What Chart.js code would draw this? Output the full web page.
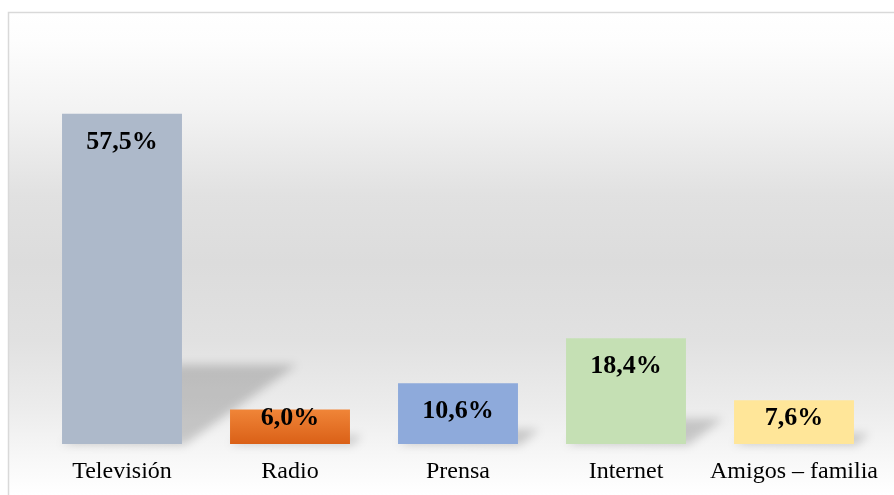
<!DOCTYPE html>
<html>
<head>
<meta charset="utf-8">
<script src="https://cdn.jsdelivr.net/npm/chart.js@4/dist/chart.umd.min.js"></script>
<style>
  html, body { margin: 0; padding: 0; background: #ffffff; }
  #wrap { width: 894px; height: 495px; position: relative; }
</style>
</head>
<body>
<div id="wrap"><canvas id="c" width="894" height="495"></canvas></div>
<script>
const categories = ["Televisión", "Radio", "Prensa", "Internet", "Amigos – familia"];
const values = [57.5, 6.0, 10.6, 18.4, 7.6];
const valueLabels = ["57,5%", "6,0%", "10,6%", "18,4%", "7,6%"];
const barColors = ["#adb9ca", "#e97124", "#8eaadb", "#c5e0b4", "#ffe699"];

const backgroundPlugin = {
  id: 'bgFrame',
  beforeDraw(chart) {
    const ctx = chart.ctx;
    const w = chart.width, h = chart.height;
    ctx.save();
    const g = ctx.createLinearGradient(0, 12, 0, h);
    g.addColorStop(0.00, '#ffffff');
    g.addColorStop(0.06, '#fdfdfd');
    g.addColorStop(0.20, '#f3f3f3');
    g.addColorStop(0.38, '#e1e1e1');
    g.addColorStop(0.52, '#dcdcdc');
    g.addColorStop(0.68, '#e1e1e1');
    g.addColorStop(0.82, '#ececec');
    g.addColorStop(0.93, '#f8f8f8');
    g.addColorStop(1.00, '#ffffff');
    ctx.fillStyle = g;
    ctx.fillRect(8, 12, w - 8, h - 12);
    ctx.strokeStyle = '#d9d9d9';
    ctx.lineWidth = 1.5;
    ctx.beginPath();
    ctx.moveTo(8.5, h + 2);
    ctx.lineTo(8.5, 12.5);
    ctx.lineTo(w + 2, 12.5);
    ctx.stroke();
    ctx.restore();
  }
};

const shadowPlugin = {
  id: 'barShadows',
  beforeDatasetsDraw(chart) {
    const ctx = chart.ctx;
    const meta = chart.getDatasetMeta(0);
    ctx.save();
    ctx.filter = 'blur(5px)';
    ctx.fillStyle = 'rgba(0,0,0,0.18)';
    meta.data.forEach((el) => {
      const p = el.getProps(['x', 'y', 'base', 'width'], true);
      const left = p.x - p.width / 2, right = p.x + p.width / 2;
      const hgt = p.base - p.y;
      const sh = hgt * 0.24;
      const skew = sh * 1.45;
      ctx.beginPath();
      ctx.moveTo(left, p.base);
      ctx.lineTo(right + 2, p.base + 1);
      ctx.lineTo(right + skew, p.base - sh);
      ctx.lineTo(left + skew, p.base - sh);
      ctx.closePath();
      ctx.fill();
    });
    ctx.restore();
  }
};

const labelPlugin = {
  id: 'valueLabels',
  afterDatasetsDraw(chart) {
    const ctx = chart.ctx;
    const meta = chart.getDatasetMeta(0);
    ctx.save();
    ctx.font = 'bold 26px "Liberation Serif", "Times New Roman", serif';
    ctx.fillStyle = '#000000';
    ctx.textAlign = 'center';
    ctx.textBaseline = 'middle';
    meta.data.forEach((el, i) => {
      const p = el.getProps(['x', 'y', 'base'], true);
      const hgt = p.base - p.y;
      const ty = hgt > 60 ? p.y + 28 : p.base - 26;
      ctx.fillText(valueLabels[i], p.x, ty);
    });
    ctx.restore();
  }
};

new Chart(document.getElementById('c'), {
  type: 'bar',
  data: {
    labels: categories,
    datasets: [{
      data: values,
      backgroundColor: (c) => {
        const i = c.dataIndex;
        const chart = c.chart;
        if (i !== 1 || !chart.chartArea || !chart.scales.y) return barColors[i];
        const top = chart.scales.y.getPixelForValue(values[1]);
        const base = chart.scales.y.getPixelForValue(0);
        const g = chart.ctx.createLinearGradient(0, top, 0, base);
        g.addColorStop(0, '#f08538');
        g.addColorStop(1, '#da6017');
        return g;
      },
      borderWidth: 0,
      barPercentage: 0.714,
      categoryPercentage: 1.0
    }]
  },
  options: {
    responsive: false,
    animation: false,
    devicePixelRatio: 1,
    layout: { padding: { left: 38, right: 16, top: 42, bottom: 10 } },
    plugins: {
      legend: { display: false },
      tooltip: { enabled: false },
      title: { display: false }
    },
    scales: {
      x: {
        grid: { display: false, drawTicks: false },
        border: { display: false },
        afterFit: (scale) => { scale.height = 41; },
        ticks: {
          color: '#000000',
          padding: 13,
          maxRotation: 0,
          autoSkip: false,
          font: { family: '"Liberation Serif", "Times New Roman", serif', size: 24 }
        }
      },
      y: {
        display: false,
        min: 0,
        max: 70
      }
    }
  },
  plugins: [backgroundPlugin, shadowPlugin, labelPlugin]
});
</script>
</body>
</html>
